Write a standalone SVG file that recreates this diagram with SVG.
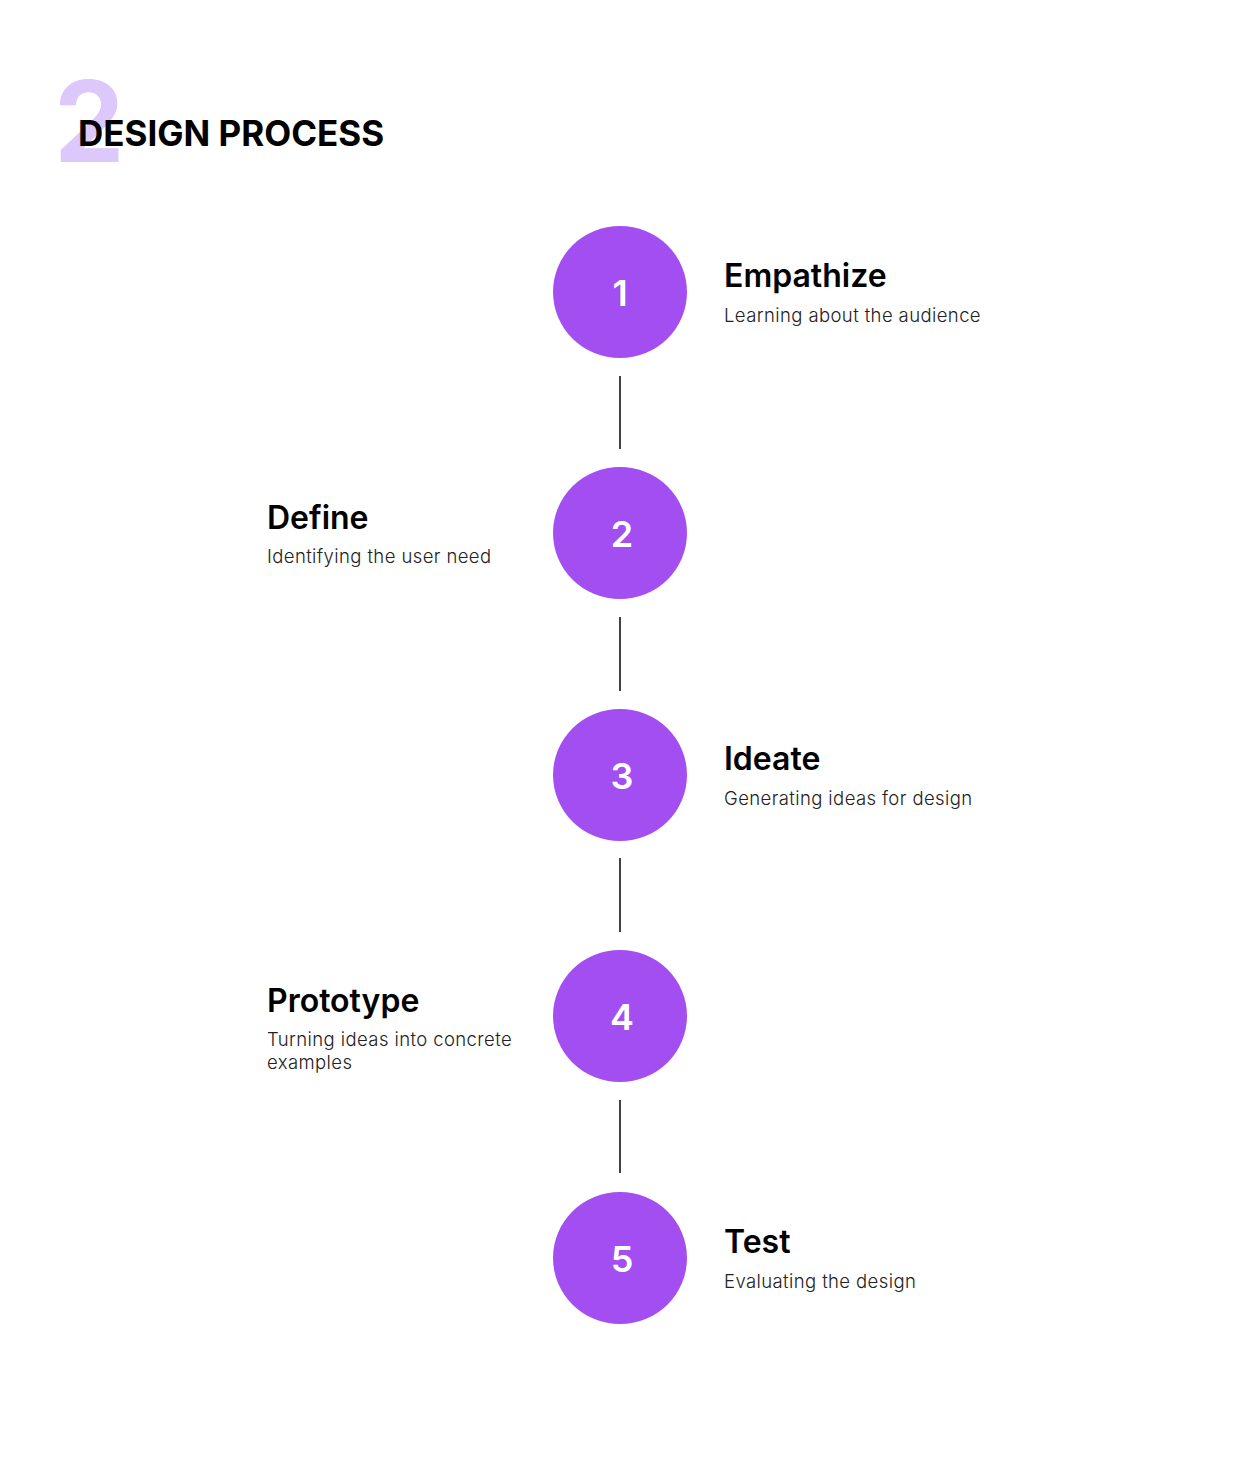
<svg xmlns="http://www.w3.org/2000/svg" width="1241" height="1476" viewBox="0 0 1241 1476">
<style>
.c{fill:#a34ef1}
.n{fill:#fff;font:600 36px Inter,"Liberation Sans",sans-serif;text-anchor:middle}
.t{fill:#000;font:600 32px Inter,"Liberation Sans",sans-serif}
.s{fill:#222;font:300 18.5px Inter,"Liberation Sans",sans-serif;letter-spacing:0.4px}
.l{stroke:#000;stroke-width:1.5}
</style>
<rect width="1241" height="1476" fill="#fff"/>
<g id="title">
<text x="54" y="162" style="font:700 112px Inter,'Liberation Sans',sans-serif;fill:#dcc8fb">2</text>
<text x="78" y="146" style="font:700 35px Inter,'Liberation Sans',sans-serif;fill:#000">DESIGN PROCESS</text>
</g>
<g id="connectors">
<line class="l" x1="620" y1="376" x2="620" y2="449"/>
<line class="l" x1="620" y1="617" x2="620" y2="691"/>
<line class="l" x1="620" y1="858" x2="620" y2="932"/>
<line class="l" x1="620" y1="1100" x2="620" y2="1173"/>
</g>
<g id="n1"><ellipse class="c" cx="620" cy="292" rx="67" ry="66"/><text class="n" x="620" y="306">1</text>
<text class="t" x="724" y="287">Empathize</text><text class="s" x="724" y="322">Learning about the audience</text></g>
<g id="n2"><ellipse class="c" cx="620" cy="533" rx="67" ry="66"/><text class="n" x="622" y="547">2</text>
<text class="t" x="267" y="529">Define</text><text class="s" x="267" y="563">Identifying the user need</text></g>
<g id="n3"><ellipse class="c" cx="620" cy="775" rx="67" ry="66"/><text class="n" x="622" y="789">3</text>
<text class="t" x="724" y="770">Ideate</text><text class="s" x="724" y="805">Generating ideas for design</text></g>
<g id="n4"><ellipse class="c" cx="620" cy="1016" rx="67" ry="66"/><text class="n" x="622" y="1030">4</text>
<text class="t" x="267" y="1012">Prototype</text><text class="s" x="267" y="1046">Turning ideas into concrete</text><text class="s" x="267" y="1069">examples</text></g>
<g id="n5"><ellipse class="c" cx="620" cy="1258" rx="67" ry="66"/><text class="n" x="622" y="1272">5</text>
<text class="t" x="724" y="1253">Test</text><text class="s" x="724" y="1288">Evaluating the design</text></g>
</svg>
